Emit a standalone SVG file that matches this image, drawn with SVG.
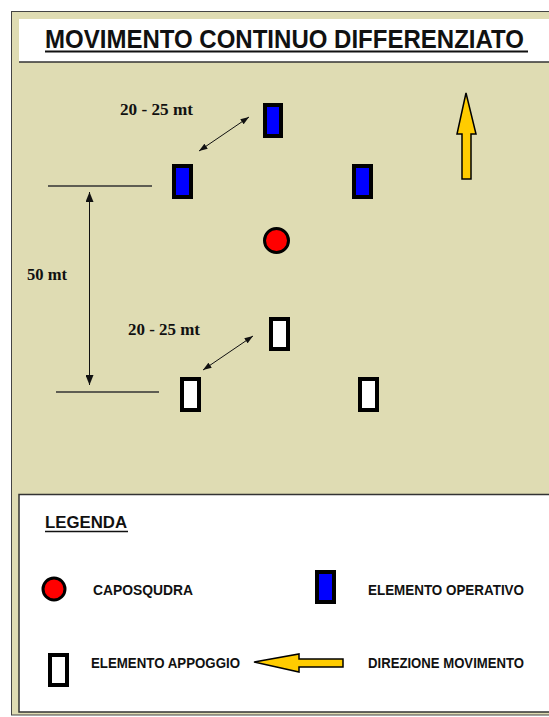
<svg xmlns="http://www.w3.org/2000/svg" width="549" height="717" viewBox="0 0 549 717">
<style>
.sans{font-family:"Liberation Sans",Arial,sans-serif;font-weight:bold;fill:#111}
.serif{font-family:"Liberation Serif","Times New Roman",serif;font-weight:bold;font-size:17px;fill:#111}
.op{fill:#0000FF;stroke:#000;stroke-width:4}
.ap{fill:#FFFFFF;stroke:#000;stroke-width:4}
.cap{fill:#FF0000;stroke:#000;stroke-width:3}
.dir{fill:#FFCC00;stroke:#000;stroke-width:1.5;stroke-linejoin:miter}
.dim{stroke:#111;stroke-width:1;fill:none}
.ref{stroke:#333;stroke-width:1.5;fill:none}
</style>
<defs>
<marker id="ah" viewBox="0 0 10 7" refX="10" refY="3.5" markerUnits="userSpaceOnUse" markerWidth="9" markerHeight="6" orient="auto-start-reverse">
<path d="M0,0 L10,3.5 L0,7 z" fill="#111"/>
</marker>
<marker id="ahv" viewBox="0 0 10 8" refX="10" refY="4" markerUnits="userSpaceOnUse" markerWidth="10" markerHeight="8" orient="auto-start-reverse">
<path d="M0,0 L10,4 L0,8 z" fill="#111"/>
</marker>
</defs>
<rect x="0" y="0" width="549" height="717" fill="#FFFFFF"/>
<rect x="11.5" y="11.5" width="560" height="703.5" fill="#DFDCB3" stroke="#444" stroke-width="1"/>
<g id="title">
<rect x="19" y="19" width="540" height="43" fill="#FFFFFF"/>
<line x1="19" y1="62" x2="549" y2="62" stroke="#333" stroke-width="1.5"/>
<text class="sans" transform="translate(45,48) scale(1,1.08)" x="0" y="0" font-size="24" textLength="479" lengthAdjust="spacingAndGlyphs">MOVIMENTO CONTINUO DIFFERENZIATO</text>
<line x1="45" y1="51.5" x2="528" y2="51.5" stroke="#111" stroke-width="2"/>
</g>
<g id="connectors">
<line class="ref" x1="48" y1="186" x2="152" y2="186"/>
<line class="ref" x1="56" y1="392" x2="159" y2="392"/>
<line class="dim" x1="89.5" y1="192" x2="89.5" y2="385" marker-start="url(#ahv)" marker-end="url(#ahv)"/>
<line class="dim" x1="199" y1="151" x2="249" y2="117" marker-start="url(#ah)" marker-end="url(#ah)"/>
<line class="dim" x1="203" y1="370" x2="253" y2="336" marker-start="url(#ah)" marker-end="url(#ah)"/>
</g>
<g id="labels">
<text class="serif" x="120" y="115" textLength="73" lengthAdjust="spacingAndGlyphs">20 - 25 mt</text>
<text class="serif" x="27" y="280" textLength="40" lengthAdjust="spacingAndGlyphs">50 mt</text>
<text class="serif" x="128" y="335" textLength="72" lengthAdjust="spacingAndGlyphs">20 - 25 mt</text>
</g>
<g id="op-top"><rect class="op" x="265" y="105" width="16" height="31"/></g>
<g id="op-left"><rect class="op" x="174" y="166" width="17" height="31"/></g>
<g id="op-right"><rect class="op" x="354" y="166" width="17" height="31"/></g>
<g id="caposquadra"><circle class="cap" cx="276.5" cy="240.5" r="12"/></g>
<g id="ap-top"><rect class="ap" x="271" y="319" width="17" height="30"/></g>
<g id="ap-left"><rect class="ap" x="182" y="379" width="17" height="31"/></g>
<g id="ap-right"><rect class="ap" x="360" y="379" width="17" height="31"/></g>
<g id="direction"><polygon class="dir" points="466,93 476,134 471,134 471,179 462,179 462,134 457,134"/></g>
<g id="legend">
<rect x="19" y="494.5" width="540" height="217.5" fill="#FFFFFF" stroke="#333" stroke-width="1.5"/>
<text class="sans" x="45" y="528" font-size="16.5" textLength="82" lengthAdjust="spacingAndGlyphs">LEGENDA</text>
<line x1="45" y1="531.5" x2="128" y2="531.5" stroke="#111" stroke-width="1.5"/>
<g id="legend-caposquadra">
<circle class="cap" cx="54" cy="589" r="11"/>
<text class="sans" x="93" y="595" font-size="14" textLength="100" lengthAdjust="spacingAndGlyphs">CAPOSQUDRA</text>
</g>
<g id="legend-operativo">
<rect class="op" x="317" y="572" width="17" height="30"/>
<text class="sans" x="368" y="595" font-size="14" textLength="156" lengthAdjust="spacingAndGlyphs">ELEMENTO OPERATIVO</text>
</g>
<g id="legend-appoggio">
<rect class="ap" x="50" y="655" width="17" height="30"/>
<text class="sans" x="91" y="668" font-size="14" textLength="149" lengthAdjust="spacingAndGlyphs">ELEMENTO APPOGGIO</text>
</g>
<g id="legend-direzione">
<polygon class="dir" points="254,662 299,654 299,659 343,659 343,667 299,667 299,672"/>
<text class="sans" x="368" y="668" font-size="14" textLength="156" lengthAdjust="spacingAndGlyphs">DIREZIONE MOVIMENTO</text>
</g>
</g>
</svg>
